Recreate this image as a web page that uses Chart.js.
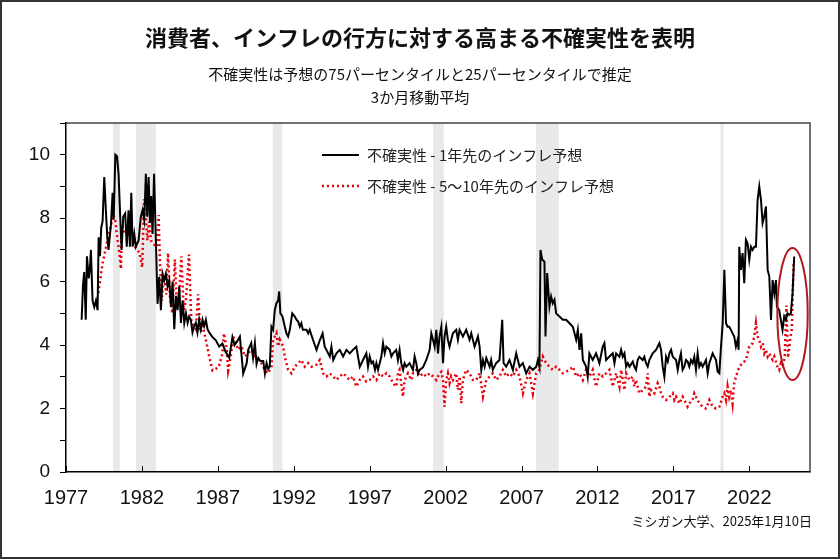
<!DOCTYPE html>
<html><head><meta charset="utf-8">
<script src="https://cdn.jsdelivr.net/npm/chart.js@4.4.1/dist/chart.umd.min.js"></script>
<style>html,body{margin:0;padding:0;background:#fff;}canvas{display:block;}</style>
</head><body>
<canvas id="c" width="840" height="559"></canvas>
<script>
const titleText = '消費者、インフレの行方に対する高まる不確実性を表明';
const subtitleLines = ['不確実性は予想の75パーセンタイルと25パーセンタイルで推定', '3か月移動平均'];
const sourceText = 'ミシガン大学、2025年1月10日';
const seriesLabels = ['不確実性 - 1年先のインフレ予想', '不確実性 - 5〜10年先のインフレ予想'];
const xTickYears = [1977, 1982, 1987, 1992, 1997, 2002, 2007, 2012, 2017, 2022];
const yTickLabels = [0, 2, 4, 6, 8, 10];
const recessions = [[1980.1, 1980.55], [1981.6, 1982.92], [1990.62, 1991.25], [2001.17, 2001.88], [2007.95, 2009.45], [2020.1, 2020.3]];
const highlight = { year: 2024.85, value: 4.98, yearRadius: 1.0, valueRadius: 2.08 };

const oneYearDates = [
1978.03,1978.12,1978.2,1978.3,1978.38,1978.5,1978.57,1978.64,1978.75,1978.86,1978.97,
1979.08,1979.15,1979.24,1979.32,1979.41,1979.52,1979.63,1979.72,1979.8,1979.96,
1980.07,1980.14,1980.25,1980.36,1980.46,1980.57,1980.66,1980.77,1980.9,
1981.0,1981.12,1981.21,1981.3,1981.39,1981.5,1981.6,1981.78,1981.93,
1982.04,1982.15,1982.26,1982.35,1982.44,1982.53,1982.61,1982.7,1982.8,1982.92,
1983.03,1983.14,1983.25,1983.36,1983.47,1983.58,1983.69,1983.8,1983.91,
1984.02,1984.13,1984.24,1984.35,1984.46,1984.57,1984.68,1984.79,1984.9,
1985.01,1985.11,1985.22,1985.33,1985.44,1985.55,1985.66,1985.77,1985.88,1985.99,
1986.1,1986.21,1986.32,1986.43,1986.65,1986.87,1987.09,1987.3,1987.5,1987.75,1987.96,
1988.1,1988.25,1988.45,1988.67,1988.9,1989.0,1989.2,1989.32,1989.44,1989.55,1989.66,1989.8,1989.99,
1990.1,1990.21,1990.32,1990.42,1990.53,1990.64,1990.75,1990.86,1990.97,
1991.04,1991.12,1991.26,1991.41,1991.52,1991.63,1991.74,1991.9,
1992.07,1992.18,1992.29,1992.4,1992.5,1992.6,1992.84,1992.95,
1993.05,1993.27,1993.5,1993.72,1993.9,1994.04,1994.15,1994.37,1994.48,1994.6,1994.81,
1995.03,1995.25,1995.47,1995.69,1995.9,1996.12,1996.23,1996.35,1996.56,1996.78,1996.89,
1997.0,1997.12,1997.22,1997.35,1997.44,1997.55,1997.77,1997.88,1997.99,
1998.1,1998.32,1998.43,1998.54,1998.75,1998.86,1998.97,
1999.08,1999.2,1999.3,1999.41,1999.63,1999.85,1999.96,
2000.07,2000.18,2000.29,2000.51,2000.73,2000.95,
2001.06,2001.17,2001.28,2001.39,2001.5,2001.6,2001.72,2001.83,2001.93,
2002.04,2002.15,2002.26,2002.37,2002.48,2002.7,2002.81,2002.92,
2003.14,2003.36,2003.58,2003.69,2003.91,2004.13,2004.24,2004.35,2004.46,2004.57,2004.68,2004.9,
2005.0,2005.11,2005.33,2005.55,2005.73,2005.82,2005.99,2006.21,2006.43,2006.65,2006.87,
2007.09,2007.31,2007.53,2007.75,2007.97,2008.08,2008.18,2008.25,2008.36,2008.51,2008.58,2008.69,2008.84,2008.95,
2009.06,2009.17,2009.28,2009.5,2009.72,2009.94,2010.16,2010.38,2010.6,2010.71,2010.82,2010.93,
2011.04,2011.25,2011.36,2011.47,2011.69,2011.91,2012.13,2012.35,2012.46,2012.57,2012.79,
2013.01,2013.12,2013.23,2013.45,2013.56,2013.67,2013.78,2013.89,2014.0,2014.11,2014.33,2014.43,2014.54,2014.65,2014.76,2014.98,
2015.09,2015.2,2015.31,2015.42,2015.64,2015.86,2016.08,2016.19,2016.3,2016.41,2016.52,2016.63,2016.74,2016.85,2016.96,
2017.18,2017.29,2017.4,2017.5,2017.61,2017.72,2017.83,2017.94,2018.05,2018.16,2018.27,2018.38,2018.49,2018.6,2018.71,2018.82,2018.93,
2019.15,2019.26,2019.37,2019.59,2019.7,2019.81,2019.92,2020.03,2020.14,2020.25,2020.36,2020.47,2020.57,2020.68,2020.79,2020.9,
2021.01,2021.12,2021.23,2021.3,2021.34,2021.45,2021.56,2021.67,2021.78,2021.89,2022.0,2022.11,2022.22,2022.33,2022.44,2022.55,2022.66,2022.77,2022.88,2022.99,
2023.1,2023.21,2023.32,2023.43,2023.54,2023.65,2023.76,2023.82,2023.97,2024.08,2024.19,2024.3,2024.41,2024.52,2024.63,2024.74,2024.85,2024.96
];
const oneYearValues = [
4.8,5.9,6.3,4.8,6.8,6.1,6.4,7.0,5.4,5.2,5.4,
5.1,7.4,6.8,7.7,7.9,9.3,8.2,7.4,7.0,7.8,
8.8,7.95,10.0,9.95,9.4,8.05,7.0,8.05,8.15,
7.1,8.25,7.1,8.8,7.1,7.5,7.1,7.3,8.05,
8.25,7.95,9.4,8.05,9.3,7.85,8.7,7.5,9.4,7.3,
5.3,6.15,5.1,6.25,6.05,6.25,5.85,6.05,5.2,
6.0,4.5,5.55,5.1,5.85,4.7,5.4,4.7,5.0,
4.7,4.9,4.8,4.4,4.6,4.7,4.4,4.8,4.5,4.8,
4.6,4.8,4.5,4.4,4.25,4.15,3.95,4.05,3.8,3.6,4.25,
4.0,4.1,4.27,3.1,3.43,3.85,4.06,3.6,4.06,3.4,3.6,3.5,3.5,
3.1,3.43,3.25,3.32,4.58,4.48,5.1,5.32,5.4,
5.69,5.0,4.9,4.58,4.37,4.27,4.48,5.0,
4.9,4.8,4.74,4.58,4.69,4.48,4.48,4.37,
4.48,4.16,3.85,4.16,4.37,3.95,3.85,3.64,3.95,3.53,3.74,
3.85,3.64,3.85,3.74,3.85,3.95,3.64,3.32,3.53,3.74,3.32,
3.64,3.43,3.48,3.22,3.43,3.22,3.64,4.06,3.74,
3.95,3.85,3.64,3.74,3.85,3.53,3.85,
3.43,3.22,3.43,3.32,3.43,3.22,3.64,
3.43,3.1,3.22,3.3,3.53,3.85,
4.37,4.17,3.95,4.48,3.74,4.27,4.58,3.43,4.27,
4.58,4.17,3.95,4.17,4.37,4.48,4.17,4.48,
4.27,4.48,4.17,4.37,3.95,4.27,3.95,3.22,3.53,3.32,3.59,3.32,
3.53,3.22,3.43,3.53,4.8,3.43,3.32,3.53,3.22,3.74,3.32,
3.43,3.11,3.32,3.22,3.32,3.53,3.32,7.0,6.7,6.63,4.27,6.27,5.21,5.53,
5.32,5.43,5.0,4.9,4.8,4.8,4.69,4.58,4.17,4.48,3.85,4.37,
3.53,3.32,3.0,3.74,3.53,3.74,3.43,3.95,4.06,3.53,3.64,
3.74,3.43,3.74,3.63,3.85,3.63,3.74,3.32,3.43,3.32,3.48,3.32,3.22,3.53,3.63,3.53,
3.63,3.43,3.32,3.53,3.74,3.85,4.06,3.85,3.32,3.0,3.63,3.48,3.74,3.85,3.63,
3.53,3.22,3.53,3.74,3.22,3.32,3.53,3.48,3.32,3.53,3.43,3.63,3.22,3.74,3.32,3.43,3.32,
3.53,3.11,3.43,3.74,3.63,3.53,3.16,3.11,3.95,4.69,6.37,4.69,4.58,4.58,4.48,4.37,
4.27,3.95,4.16,3.85,7.1,6.37,6.9,5.95,7.32,7.21,6.69,7.1,7.0,7.1,7.1,8.58,9.0,8.58,7.85,8.06,
8.37,6.37,6.16,4.79,6.05,5.63,6.05,5.21,5.1,4.79,4.48,4.9,4.79,5.0,4.95,5.0,5.63,6.79
];

const longDates = [
1979.13,1979.41,1979.74,1979.89,1980.11,1980.25,1980.4,1980.52,1980.62,1980.68,1980.8,1980.95,
1981.1,1981.25,1981.4,1981.55,1981.7,1981.85,1982.02,1982.14,1982.25,1982.36,1982.47,1982.6,1982.72,1982.85,1982.98,
1983.1,1983.2,1983.3,1983.45,1983.6,1983.72,1983.85,1984.0,1984.17,1984.3,1984.45,1984.6,1984.75,1984.9,
1985.1,1985.25,1985.4,1985.55,1985.7,1985.85,1986.0,1986.2,1986.43,1986.65,1986.85,1987.05,1987.3,1987.4,1987.58,1987.68,1987.85,
1988.01,1988.12,1988.34,1988.56,1988.78,1988.99,1989.22,1989.43,1989.65,1989.87,1990.09,1990.31,1990.53,1990.64,1990.86,1990.97,
1991.08,1991.3,1991.41,1991.63,1991.85,1992.07,1992.29,1992.5,1992.72,1992.94,1993.16,1993.49,1993.71,1993.93,
1994.15,1994.37,1994.59,1994.81,1995.03,1995.25,1995.47,1995.68,1995.9,1996.12,1996.34,1996.56,1996.78,
1997.0,1997.22,1997.44,1997.66,1997.88,1998.1,1998.32,1998.54,1998.75,1998.86,1998.97,1999.08,1999.19,1999.3,1999.52,1999.74,1999.85,
2000.07,2000.29,2000.51,2000.73,2000.95,2001.17,2001.39,2001.6,2001.72,2001.83,2001.93,2002.04,2002.15,2002.26,2002.37,2002.48,2002.7,2002.81,2002.92,
2003.03,2003.14,2003.36,2003.58,2003.8,2004.02,2004.13,2004.24,2004.46,2004.68,2004.9,2005.11,2005.33,2005.55,2005.77,2005.99,
2006.21,2006.43,2006.65,2006.87,2007.09,2007.31,2007.53,2007.75,2007.97,2008.18,2008.4,2008.62,2008.84,
2009.06,2009.28,2009.5,2009.72,2009.94,2010.16,2010.38,2010.6,2010.82,2011.04,2011.25,2011.47,2011.69,2011.91,
2012.13,2012.35,2012.57,2012.79,2013.01,2013.23,2013.45,2013.56,2013.67,2013.78,2013.89,2014.0,2014.11,2014.33,2014.43,2014.54,2014.76,2014.98,
2015.2,2015.31,2015.42,2015.53,2015.75,2015.97,2016.08,2016.19,2016.3,2016.52,2016.74,2016.96,2017.07,2017.18,2017.4,2017.61,2017.72,2017.94,
2018.05,2018.27,2018.38,2018.49,2018.6,2018.71,2018.93,2019.15,2019.37,2019.48,2019.59,2019.81,2020.03,2020.25,2020.36,2020.47,2020.57,2020.68,2020.79,2020.9,
2021.01,2021.12,2021.34,2021.56,2021.78,2022.0,2022.22,2022.33,2022.44,2022.55,2022.66,2022.77,2022.88,2022.99,
2023.1,2023.21,2023.32,2023.54,2023.65,2023.86,2023.97,2024.08,2024.2,2024.33,2024.45,2024.55,2024.7,2024.8,2024.92
];
const longValues = [
5.64,6.58,7.32,7.63,8.1,7.9,7.3,6.9,6.4,7.8,7.6,7.5,
7.45,7.3,7.25,7.1,7.0,6.9,6.45,8.6,8.1,7.3,7.9,7.3,7.2,7.15,7.1,
8.1,6.4,5.4,6.2,5.6,6.9,5.5,5.0,6.7,5.2,5.6,6.8,5.1,5.4,
6.85,4.8,4.6,4.5,5.6,4.4,4.6,4.2,3.64,3.2,3.25,3.3,3.73,4.37,3.9,3.2,3.64,
4.27,4.17,3.85,3.96,3.64,3.75,3.85,3.64,3.53,3.43,3.22,3.11,3.32,4.17,4.38,3.96,
4.17,3.96,3.64,3.22,3.11,3.32,3.43,3.53,3.32,3.43,3.32,3.38,3.53,3.11,
3.01,3.11,3.01,2.9,3.01,3.11,3.01,2.9,3.01,2.69,2.9,3.01,2.85,
2.9,3.01,2.9,3.11,3.01,3.11,3.01,2.8,2.69,3.11,3.22,2.8,2.38,2.9,3.11,2.9,3.11,
3.22,3.01,3.11,3.01,3.11,3.01,2.9,3.11,3.16,2.9,2.06,2.9,3.11,2.8,3.01,2.9,3.11,2.59,3.01,
2.17,2.9,3.22,3.11,2.9,2.9,3.01,3.11,2.38,2.9,3.01,3.11,2.9,3.01,3.22,3.01,
3.11,3.01,3.22,3.01,2.48,2.9,3.11,2.48,3.11,3.22,3.64,3.43,3.32,
3.22,3.32,3.22,3.11,3.16,3.22,3.32,3.01,3.11,2.9,3.22,3.01,3.22,2.69,
3.11,3.01,3.11,3.22,2.69,3.11,2.69,3.22,2.9,2.58,3.11,3.0,2.9,3.0,2.69,2.9,2.48,2.58,
2.69,3.11,2.37,2.58,2.48,2.8,2.69,2.48,2.37,2.27,2.37,2.48,2.27,2.37,2.16,2.37,2.27,2.06,
2.16,2.27,2.48,2.37,2.27,2.16,2.06,2.0,2.27,2.16,2.06,2.0,2.06,2.37,2.48,2.27,2.69,2.37,2.58,2.16,
2.8,3.0,3.32,3.43,3.53,3.95,4.06,4.27,4.69,4.27,4.16,3.95,4.06,3.74,
3.85,3.64,3.74,3.53,3.64,3.32,3.22,3.43,3.35,3.6,5.25,3.6,4.2,4.5,6.6
];

function toPoints(dates, values) {
  return dates.map((d, i) => ({ x: d, y: values[i] }));
}

const JP = '"Noto Sans CJK JP", "Noto Sans", sans-serif';

const decorPlugin = {
  id: 'decor',
  beforeDraw(chart) {
    const { ctx, chartArea: a, scales: { x } } = chart;
    ctx.save();
    ctx.fillStyle = '#ffffff';
    ctx.fillRect(0, 0, chart.width, chart.height);
    ctx.fillStyle = '#e9e9eb';
    recessions.forEach(([s, e]) => {
      const x0 = x.getPixelForValue(s), x1 = x.getPixelForValue(e);
      ctx.fillRect(x0, a.top, x1 - x0, a.bottom - a.top);
    });
    ctx.restore();
  },
  afterDatasetsDraw(chart) {
    const { ctx, scales: { x, y } } = chart;
    const cx = x.getPixelForValue(highlight.year);
    const cy = y.getPixelForValue(highlight.value);
    const rx = Math.abs(x.getPixelForValue(highlight.year + highlight.yearRadius) - cx);
    const ry = Math.abs(y.getPixelForValue(highlight.value + highlight.valueRadius) - cy);
    ctx.save();
    ctx.strokeStyle = '#b3181c';
    ctx.lineWidth = 2;
    ctx.beginPath();
    ctx.ellipse(cx, cy, rx, ry, 0, 0, Math.PI * 2);
    ctx.stroke();
    ctx.restore();
  },
  afterDraw(chart) {
    const { ctx, chartArea: a, scales: { x } } = chart;
    ctx.save();
    ctx.strokeStyle = '#333';
    ctx.lineWidth = 2;
    ctx.strokeRect(1, 1, chart.width - 2, chart.height - 2);
    ctx.strokeStyle = '#444';
    ctx.lineWidth = 1.5;
    ctx.beginPath();
    ctx.moveTo(a.left, a.top);
    ctx.lineTo(a.right, a.top);
    ctx.lineTo(a.right, a.bottom);
    ctx.stroke();
    ctx.strokeStyle = '#000';
    ctx.lineWidth = 1;
    xTickYears.forEach(v => {
      const px = Math.round(x.getPixelForValue(v)) + 0.5;
      ctx.beginPath();
      ctx.moveTo(px, a.bottom);
      ctx.lineTo(px, a.bottom - 6);
      ctx.stroke();
    });
    ctx.fillStyle = '#111';
    ctx.textAlign = 'center';
    ctx.textBaseline = 'middle';
    ctx.font = 'bold 22px ' + JP;
    ctx.fillText(titleText, 420, 38);
    ctx.font = '15px ' + JP;
    ctx.fillText(subtitleLines[0], 420, 74);
    ctx.fillText(subtitleLines[1], 420, 97);
    ctx.textAlign = 'right';
    ctx.font = '13px ' + JP;
    ctx.fillText(sourceText, 812, 521);
    ctx.textAlign = 'left';
    ctx.font = '15px ' + JP;
    chart.data.datasets.forEach((ds, i) => {
      const ly = 155 + i * 31;
      ctx.save();
      ctx.strokeStyle = ds.borderColor;
      ctx.lineWidth = ds.borderWidth;
      ctx.setLineDash(ds.borderDash || []);
      ctx.beginPath();
      ctx.moveTo(322, ly);
      ctx.lineTo(359, ly);
      ctx.stroke();
      ctx.restore();
      ctx.fillStyle = '#222';
      ctx.fillText(ds.label, 367, ly);
    });
    ctx.restore();
  }
};

new Chart(document.getElementById('c'), {
  type: 'line',
  data: {
    datasets: [
      { label: seriesLabels[0], data: toPoints(oneYearDates, oneYearValues), borderColor: '#000000', borderWidth: 2, pointRadius: 0, tension: 0, fill: false },
      { label: seriesLabels[1], data: toPoints(longDates, longValues), borderColor: '#e8000b', borderWidth: 2.5, borderDash: [2, 3], borderCapStyle: 'butt', pointRadius: 0, tension: 0, fill: false }
    ]
  },
  options: {
    responsive: false,
    animation: false,
    events: [],
    layout: { padding: { top: 123, right: 30, bottom: 47, left: 0 } },
    plugins: { legend: { display: false }, tooltip: { enabled: false }, title: { display: false } },
    scales: {
      x: {
        type: 'linear', min: 1977, max: 2026,
        afterFit: s => { s.height = 40; },
        afterBuildTicks: s => { s.ticks = xTickYears.map(v => ({ value: v })); },
        grid: { drawOnChartArea: false, drawTicks: false, color: '#000' },
        border: { display: true, color: '#000', width: 1.5 },
        ticks: { autoSkip: false, maxRotation: 0, padding: 14, color: '#111', font: { family: '"Liberation Sans", Arial, sans-serif', size: 20 }, callback: v => String(v) }
      },
      y: {
        min: 0, max: 11,
        afterFit: s => { s.width = 66; },
        afterBuildTicks: s => { const t = []; for (let v = 0; v <= 11; v++) t.push({ value: v }); s.ticks = t; },
        grid: { drawOnChartArea: false, drawTicks: true, tickLength: 6, color: '#000' },
        border: { display: true, color: '#000', width: 1.5 },
        ticks: { autoSkip: false, padding: 10, color: '#111', font: { family: '"Liberation Sans", Arial, sans-serif', size: 19 }, callback: v => yTickLabels.includes(v) ? String(v) : '' }
      }
    }
  },
  plugins: [decorPlugin]
});
</script>
</body></html>
